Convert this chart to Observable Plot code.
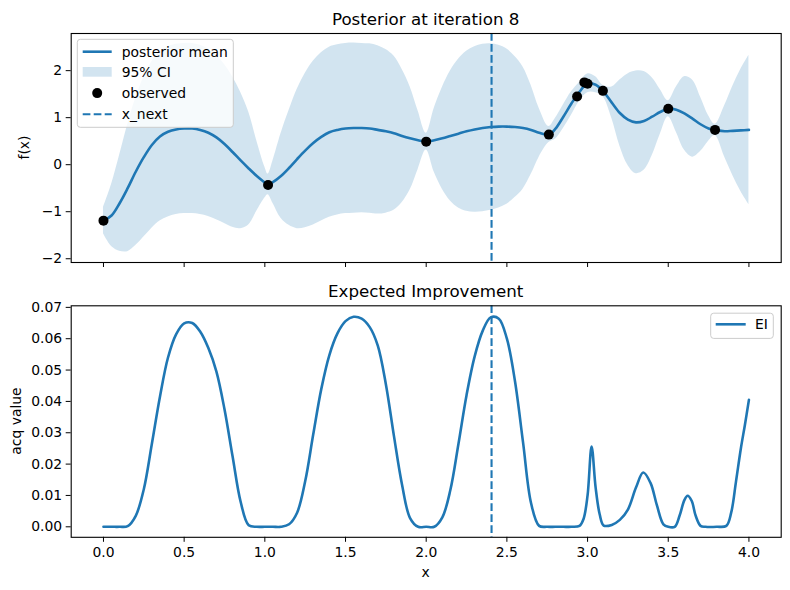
<!DOCTYPE html>
<html><head><meta charset="utf-8">
<script src="https://cdn.jsdelivr.net/npm/d3@7"></script>
<script src="https://cdn.jsdelivr.net/npm/@observablehq/plot@0.6"></script>
<style>
html,body{margin:0;padding:0;background:#fff;}
#fig{position:relative;width:790px;height:590px;overflow:hidden;background:#fff;font-family:"DejaVu Sans",sans-serif;}
#fig > svg{position:absolute;left:0;}
</style></head><body><div id="fig"></div>
<script>
// ---- data ----
const ciX    = [0,0.05,0.1,0.15,0.2,0.25,0.3,0.35,0.4,0.45,0.5,0.55,0.6,0.65,0.7,0.75,0.8,0.85,0.9,0.95,1.0,1.02,1.05,1.1,1.15,1.2,1.25,1.3,1.35,1.4,1.45,1.5,1.55,1.6,1.65,1.7,1.75,1.8,1.85,1.9,1.95,2.0,2.05,2.1,2.15,2.2,2.25,2.3,2.35,2.4,2.45,2.5,2.55,2.6,2.65,2.7,2.76,2.8,2.85,2.9,2.95,3.0,3.05,3.095,3.15,3.2,3.25,3.3,3.35,3.4,3.45,3.5,3.55,3.6,3.65,3.7,3.75,3.79,3.85,3.9,3.95,4.0];
const meanY  = [-1.19,-1.08,-0.82,-0.50,-0.15,0.16,0.42,0.60,0.70,0.75,0.77,0.77,0.74,0.68,0.58,0.44,0.27,0.09,-0.08,-0.24,-0.38,-0.42,-0.37,-0.24,-0.07,0.12,0.30,0.46,0.59,0.69,0.74,0.77,0.78,0.78,0.77,0.74,0.71,0.67,0.61,0.56,0.52,0.49,0.52,0.56,0.61,0.66,0.71,0.75,0.78,0.80,0.81,0.81,0.80,0.78,0.74,0.68,0.64,0.76,1.02,1.30,1.55,1.73,1.70,1.57,1.32,1.10,0.96,0.90,0.93,1.02,1.12,1.19,1.17,1.09,0.98,0.86,0.77,0.74,0.71,0.72,0.73,0.74];
const lowerY = [-1.47,-1.74,-1.84,-1.85,-1.72,-1.54,-1.35,-1.20,-1.11,-1.06,-1.04,-1.04,-1.06,-1.10,-1.17,-1.25,-1.33,-1.36,-1.28,-0.99,-0.71,-0.64,-0.82,-1.14,-1.29,-1.36,-1.34,-1.28,-1.20,-1.12,-1.07,-1.04,-1.03,-1.02,-1.03,-1.05,-1.03,-0.97,-0.81,-0.54,-0.10,0.31,-0.16,-0.52,-0.77,-0.92,-0.99,-1.01,-1.00,-0.97,-0.92,-0.84,-0.70,-0.52,-0.21,0.16,0.47,0.54,0.77,1.05,1.35,1.53,1.53,1.45,0.99,0.40,-0.01,-0.19,-0.12,0.19,0.64,1.02,0.69,0.31,0.16,0.28,0.50,0.62,0.16,-0.23,-0.57,-0.85];
const upperY = [-0.91,-0.42,0.20,0.85,1.42,1.86,2.19,2.40,2.51,2.56,2.58,2.58,2.54,2.46,2.33,2.13,1.87,1.54,1.12,0.51,-0.05,-0.20,0.08,0.66,1.15,1.60,1.94,2.20,2.38,2.50,2.55,2.58,2.59,2.58,2.57,2.53,2.45,2.31,2.03,1.66,1.14,0.67,1.20,1.64,1.99,2.24,2.41,2.51,2.56,2.57,2.54,2.46,2.30,2.08,1.69,1.20,0.81,0.98,1.27,1.55,1.75,1.93,1.87,1.69,1.65,1.80,1.93,1.99,1.98,1.85,1.60,1.36,1.65,1.87,1.80,1.44,1.04,0.86,1.26,1.67,2.03,2.33];

const obsX = [0,1.02,2.0,2.76,2.935,2.98,3.0,3.095,3.5,3.79];
const obsY = [-1.19,-0.43,0.49,0.64,1.45,1.75,1.72,1.57,1.19,0.74];

const xNext = 2.405;

const eiX = [0,0.05,0.1,0.15,0.2,0.25,0.3,0.35,0.4,0.45,0.5,0.55,0.6,0.65,0.7,0.75,0.8,0.85,0.9,0.95,1.0,1.05,1.1,1.15,1.2,1.25,1.3,1.35,1.4,1.45,1.5,1.55,1.6,1.65,1.7,1.75,1.8,1.85,1.9,1.95,2.0,2.05,2.1,2.15,2.2,2.25,2.3,2.35,2.4,2.45,2.5,2.55,2.6,2.65,2.7,2.75,2.8,2.85,2.9,2.95,2.975,3.0,3.025,3.05,3.075,3.1,3.15,3.2,3.25,3.3,3.345,3.39,3.43,3.47,3.5,3.54,3.57,3.6,3.62,3.645,3.67,3.7,3.73,3.8,3.86,3.89,3.92,3.95,3.975,4.0];
const eiY = [0,0,0,0.0002,0.0035,0.012,0.0265,0.0415,0.0540,0.0614,0.0649,0.0650,0.0622,0.0570,0.0495,0.0375,0.0225,0.0080,0.0005,0,0,0,0,0.0008,0.0045,0.0145,0.0295,0.0440,0.0548,0.0617,0.0656,0.0670,0.0664,0.0637,0.0578,0.0455,0.0290,0.0135,0.0028,0,0,0,0.0030,0.0118,0.0265,0.0420,0.0543,0.0625,0.0668,0.0664,0.0600,0.0465,0.0270,0.0075,0.0003,0,0,0,0,0.0003,0.0025,0.0100,0.0256,0.0125,0.0040,0.0004,0.0006,0.0022,0.0055,0.0125,0.0173,0.0140,0.0068,0.0008,0,0,0.0035,0.0085,0.0099,0.0083,0.0035,0.0003,0,0,0.0003,0.0045,0.0145,0.0250,0.0325,0.0405];

const xTicks  = [0,0.5,1,1.5,2,2.5,3,3.5,4];
const fTicks  = [-2,-1,0,1,2];
const eiTicks = [0,0.01,0.02,0.03,0.04,0.05,0.06,0.07];

// ---- build ----
const blue = "#1f77b4";
const FS = 13.9;
const posterior = ciX.map((x, i) => ({x, mean: meanY[i], lo: lowerY[i], hi: upperY[i]}));
const observed = obsX.map((x, i) => ({x, y: obsY[i]}));
const ei = eiX.map((x, i) => ({x, y: eiY[i]}));

const common = {
  width: 790, marginLeft: 70.7, marginRight: 9.3,
  style: {fontFamily: '"DejaVu Sans", sans-serif', fontSize: FS + "px", color: "black", background: "transparent", overflow: "visible"}
};

const p1 = Plot.plot({
  ...common, height: 290, marginTop: 33, marginBottom: 28,
  x: {domain: [-0.2, 4.2], ticks: xTicks, tickFormat: () => "", tickSize: 5, label: null},
  y: {domain: [-2.08, 2.79], ticks: fTicks, tickFormat: d3.format("d"), tickSize: 5, tickPadding: 4, label: null},
  marks: [
    Plot.areaY(posterior, {x: "x", y1: "lo", y2: "hi", fill: blue, fillOpacity: 0.2, curve: "catmull-rom"}),
    Plot.line(posterior, {x: "x", y: "mean", stroke: blue, strokeWidth: 2.6, curve: "catmull-rom"}),
    Plot.dot(observed, {x: "x", y: "y", fill: "black", r: 5}),
    Plot.ruleX([xNext], {stroke: blue, strokeWidth: 2.1, strokeDasharray: "7.7,3.3"}),
    Plot.frame({stroke: "black", strokeWidth: 1.1})
  ]
});

const p2 = Plot.plot({
  ...common, height: 300, marginTop: 15.3, marginBottom: 53.2,
  x: {domain: [-0.2, 4.2], ticks: xTicks, tickFormat: d3.format(".1f"), tickSize: 5, tickPadding: 5, label: null},
  y: {domain: [-0.00335, 0.0705], ticks: eiTicks, tickFormat: d3.format(".2f"), tickSize: 5, tickPadding: 4, label: null},
  marks: [
    Plot.line(ei, {x: "x", y: "y", stroke: blue, strokeWidth: 2.6, curve: "catmull-rom"}),
    Plot.ruleX([xNext], {stroke: blue, strokeWidth: 2.1, strokeDasharray: "7.7,3.3"}),
    Plot.frame({stroke: "black", strokeWidth: 1.1})
  ]
});

const fig = document.getElementById("fig");
p1.style.top = "0px";
p2.style.top = "290px";
fig.appendChild(p1);
fig.appendChild(p2);

// overlay: titles, axis labels, legends
const NS = "http://www.w3.org/2000/svg";
const ov = document.createElementNS(NS, "svg");
ov.setAttribute("width", 790); ov.setAttribute("height", 590);
ov.style.top = "0px";
ov.style.pointerEvents = "none";
ov.style.fontFamily = '"DejaVu Sans", sans-serif';
fig.appendChild(ov);
function el(tag, attrs, text) {
  const e = document.createElementNS(NS, tag);
  for (const k in attrs) e.setAttribute(k, attrs[k]);
  if (text != null) e.textContent = text;
  ov.appendChild(e);
  return e;
}
el("text", {x: 425.7, y: 24.5, "text-anchor": "middle", "font-size": 16.7, fill: "black"}, "Posterior at iteration 8");
el("text", {x: 425.7, y: 297, "text-anchor": "middle", "font-size": 16.7, fill: "black"}, "Expected Improvement");
el("text", {x: 425.7, y: 576.5, "text-anchor": "middle", "font-size": FS, fill: "black"}, "x");
el("text", {transform: "translate(28.5,147.5) rotate(-90)", "text-anchor": "middle", "font-size": FS, fill: "black"}, "f(x)");
el("text", {transform: "translate(20.7,421) rotate(-90)", "text-anchor": "middle", "font-size": FS, fill: "black"}, "acq value");

// top legend
el("rect", {x: 77.3, y: 39.3, width: 156, height: 88, rx: 3, fill: "white", "fill-opacity": 0.8, stroke: "#cccccc", "stroke-width": 1});
el("line", {x1: 82.7, x2: 111.7, y1: 51.7, y2: 51.7, stroke: blue, "stroke-width": 2.6});
el("text", {x: 121.7, y: 56.6, "font-size": FS, fill: "black"}, "posterior mean");
el("rect", {x: 82.7, y: 67, width: 29, height: 9.7, fill: blue, "fill-opacity": 0.2});
el("text", {x: 121.7, y: 77, "font-size": FS, fill: "black"}, "95% CI");
el("circle", {cx: 97.2, cy: 93.1, r: 5, fill: "black"});
el("text", {x: 121.7, y: 98, "font-size": FS, fill: "black"}, "observed");
el("line", {x1: 82.7, x2: 111.7, y1: 114.3, y2: 114.3, stroke: blue, "stroke-width": 2.1, "stroke-dasharray": "7.7,3.3"});
el("text", {x: 121.7, y: 119.2, "font-size": FS, fill: "black"}, "x_next");

// bottom legend
el("rect", {x: 710.7, y: 313.2, width: 62.6, height: 25.2, rx: 3, fill: "white", "fill-opacity": 0.8, stroke: "#cccccc", "stroke-width": 1});
el("line", {x1: 715.7, x2: 745.7, y1: 324.3, y2: 324.3, stroke: blue, "stroke-width": 2.6});
el("text", {x: 755, y: 329.2, "font-size": FS, fill: "black"}, "EI");
</script></body></html>
